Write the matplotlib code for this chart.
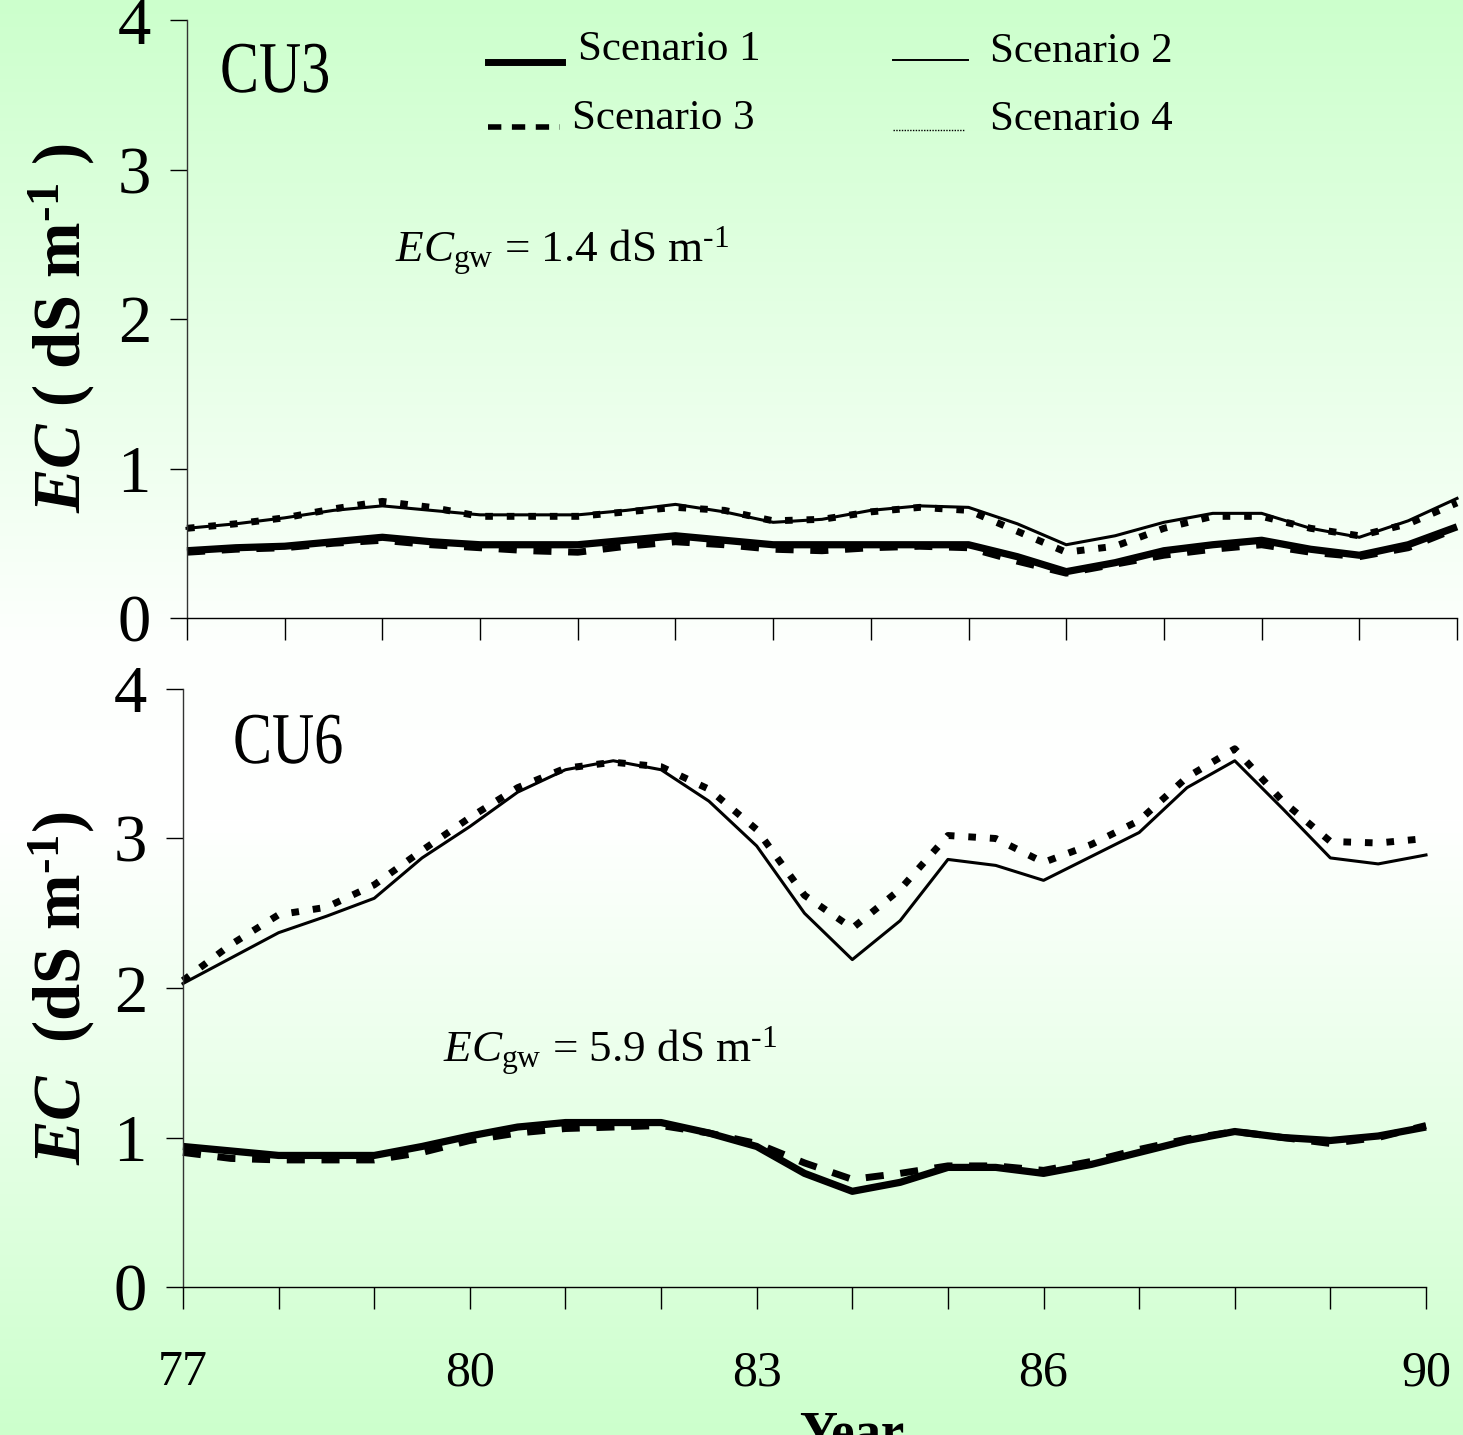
import numpy as np
import matplotlib.pyplot as plt
from matplotlib.lines import Line2D
from matplotlib.textpath import TextPath
from matplotlib.patches import PathPatch
from matplotlib.font_manager import FontProperties
from matplotlib.transforms import Affine2D

plt.rcParams['font.family'] = 'Liberation Serif'
plt.rcParams['mathtext.fontset'] = 'custom'
plt.rcParams['mathtext.rm'] = 'Liberation Serif'
plt.rcParams['mathtext.it'] = 'Liberation Serif:italic'
plt.rcParams['mathtext.bf'] = 'Liberation Serif:bold'
plt.rcParams['mathtext.bfit'] = 'Liberation Serif:italic:bold'

# half-year steps 1977 - 1990
years = [77, 77.5, 78, 78.5, 79, 79.5, 80, 80.5, 81, 81.5, 82, 82.5, 83, 83.5,
         84, 84.5, 85, 85.5, 86, 86.5, 87, 87.5, 88, 88.5, 89, 89.5, 90]

# CU3 (EC gw = 1.4)
cu3_s1 = [0.45, 0.47, 0.48, 0.51, 0.54, 0.51, 0.49, 0.49, 0.49, 0.52, 0.55, 0.52, 0.49, 0.49,
          0.49, 0.49, 0.49, 0.41, 0.31, 0.37, 0.45, 0.49, 0.52, 0.46, 0.42, 0.49, 0.61]
cu3_s2 = [0.60, 0.63, 0.67, 0.72, 0.75, 0.72, 0.69, 0.69, 0.69, 0.72, 0.76, 0.71, 0.64, 0.66,
          0.72, 0.75, 0.74, 0.63, 0.49, 0.55, 0.64, 0.70, 0.70, 0.60, 0.54, 0.65, 0.80]
cu3_s3 = [0.44, 0.46, 0.47, 0.50, 0.52, 0.49, 0.47, 0.45, 0.44, 0.48, 0.51, 0.49, 0.46, 0.45,
          0.47, 0.48, 0.47, 0.38, 0.30, 0.36, 0.42, 0.46, 0.49, 0.44, 0.41, 0.47, 0.60]
cu3_s4 = [0.60, 0.63, 0.67, 0.73, 0.78, 0.74, 0.68, 0.68, 0.68, 0.71, 0.74, 0.72, 0.65, 0.66,
          0.71, 0.74, 0.72, 0.58, 0.44, 0.48, 0.60, 0.68, 0.68, 0.60, 0.55, 0.63, 0.77]

# CU6 (EC gw = 5.9)
cu6_s1 = [0.94, 0.91, 0.88, 0.88, 0.88, 0.94, 1.01, 1.07, 1.10, 1.10, 1.10, 1.03, 0.94, 0.76,
          0.64, 0.70, 0.80, 0.80, 0.76, 0.82, 0.90, 0.98, 1.04, 1.00, 0.98, 1.01, 1.07]
cu6_s2 = [2.03, 2.20, 2.37, 2.48, 2.60, 2.87, 3.08, 3.31, 3.46, 3.52, 3.46, 3.25, 2.95, 2.50,
          2.19, 2.45, 2.86, 2.82, 2.72, 2.88, 3.04, 3.34, 3.52, 3.20, 2.87, 2.83, 2.89]
cu6_s3 = [0.90, 0.86, 0.85, 0.85, 0.85, 0.90, 0.98, 1.03, 1.06, 1.07, 1.08, 1.03, 0.96, 0.83,
          0.72, 0.76, 0.81, 0.81, 0.78, 0.84, 0.92, 0.99, 1.04, 1.00, 0.96, 1.00, 1.08]
cu6_s4 = [2.05, 2.29, 2.49, 2.54, 2.69, 2.92, 3.14, 3.34, 3.47, 3.51, 3.48, 3.33, 3.06, 2.62,
          2.40, 2.66, 3.02, 3.00, 2.84, 2.96, 3.12, 3.41, 3.60, 3.25, 2.98, 2.97, 3.00]

tick_years = [77, 78, 79, 80, 81, 82, 83, 84, 85, 86, 87, 88, 89, 90]
labelled_years = [77, 80, 83, 86, 90]

W, H = 1463, 1435
fig = plt.figure(figsize=(W / 100, H / 100), dpi=100)


def fx(px):
    return px / W


def fy(py):
    return 1 - py / H


# green -> white -> green background
stop_y = [0, 640, 820, H]
stop_v = [204, 253, 255, 204]
rows = np.interp(np.arange(H), stop_y, stop_v) / 255.0
grad = np.ones((H, 1, 3))
grad[:, 0, 0] = rows
grad[:, 0, 2] = rows
bg = fig.add_axes([0, 0, 1, 1], zorder=-1)
bg.imshow(grad, aspect='auto', extent=[0, 1, 0, 1])
bg.axis('off')

styles = {
    's1': dict(color='black', lw=5.2, solid_capstyle='butt'),
    's2': dict(color='black', lw=2.2),
    's3': dict(color='black', lw=5.0, dashes=(2.6, 2.4), dash_capstyle='butt'),
    's4': dict(color='black', lw=5.0, dashes=(1.1, 2.0), dash_capstyle='butt'),
}


def draw_panel(ax, s1, s2, s3, s4, show_labels):
    ax.set_facecolor('none')
    ax.plot(years, s3, clip_on=False, **styles['s3'])
    ax.plot(years, s1, clip_on=False, **styles['s1'])
    ax.plot(years, s4, clip_on=False, **styles['s4'])
    ax.plot(years, s2, clip_on=False, **styles['s2'])
    ax.set_xlim(77, 90)
    ax.set_ylim(0, 4)
    ax.set_yticks([0, 1, 2, 3, 4])
    ax.set_xticks(tick_years)
    if show_labels:
        ax.set_xticklabels([str(y) if y in labelled_years else '' for y in tick_years])
    else:
        ax.set_xticklabels([])
    for s in ['top', 'right']:
        ax.spines[s].set_visible(False)
    ax.spines['left'].set_color('#333333')
    ax.spines['left'].set_linewidth(1.0)
    ax.spines['bottom'].set_linewidth(1.0)
    ax.tick_params(axis='y', length=12, width=1, pad=14, labelsize=48, direction='out')
    ax.tick_params(axis='x', length=16, width=1, pad=29, labelsize=36, direction='out')


ax1 = fig.add_axes([fx(187), fy(618), fx(1457) - fx(187), fy(20) - fy(618)])
draw_panel(ax1, cu3_s1, cu3_s2, cu3_s3, cu3_s4, False)
ax2 = fig.add_axes([fx(183), fy(1287), fx(1426) - fx(183), fy(689) - fy(1287)])
draw_panel(ax2, cu6_s1, cu6_s2, cu6_s3, cu6_s4, True)


# panel names, drawn squeezed like the original
def squeezed_text(s, px, py, size=73, sx=0.8):
    tp = TextPath((0, 0), s, size=size, prop=FontProperties(family='Liberation Serif'))
    tr = Affine2D().scale(sx, 1.0).translate(px, H - py)
    fig.add_artist(PathPatch(tp, transform=tr, color='black', lw=0))


squeezed_text('CU3', 220, 92)
squeezed_text('CU6', 233, 763)

hy = '\u2010'
# groundwater EC notes
fig.text(fx(395), fy(262), r'$\mathit{EC}_{\mathrm{gw}}$ = 1.4 dS m$^{' + hy + '1}$',
         fontsize=32.5, va='baseline', ha='left')
fig.text(fx(443), fy(1062), r'$\mathit{EC}_{\mathrm{gw}}$ = 5.9 dS m$^{' + hy + '1}$',
         fontsize=32.5, va='baseline', ha='left')

# y labels
fig.text(fx(62), fy(328), r'$\mathbfit{EC}$ ( dS m$^{\mathbf{' + hy + '1}}$ )', fontsize=48,
         fontweight='bold', rotation=90, ha='center', va='center')
fig.text(fx(62), fy(988), r'$\mathbfit{EC}$  (dS m$^{\mathbf{' + hy + '1}}$)', fontsize=48,
         fontweight='bold', rotation=90, ha='center', va='center')

# x label (cut by the figure edge like the original)
fig.text(fx(852), fy(1410), 'Year', fontsize=38, fontweight='bold', ha='center', va='top')

# legend
legend_items = [
    ((488, 562, 62), dict(color='black', lw=5), (578, 60), 'Scenario 1'),
    ((893, 968, 60), dict(color='black', lw=1.4), (990, 62), 'Scenario 2'),
    ((488, 560, 127), dict(color='black', lw=4, dashes=(2.4, 1.9), dash_capstyle='butt'), (572, 129), 'Scenario 3'),
    ((893, 965, 130), dict(color='black', lw=1.0, dashes=(1, 1)), (990, 130), 'Scenario 4'),
]
for (x0, x1, yy), st, (tx, ty), lab in legend_items:
    fig.add_artist(Line2D([fx(x0), fx(x1)], [fy(yy), fy(yy)], transform=fig.transFigure, **st))
    fig.text(fx(tx), fy(ty), lab, fontsize=31, va='baseline', ha='left')

fig.savefig('out.png', dpi=100)
